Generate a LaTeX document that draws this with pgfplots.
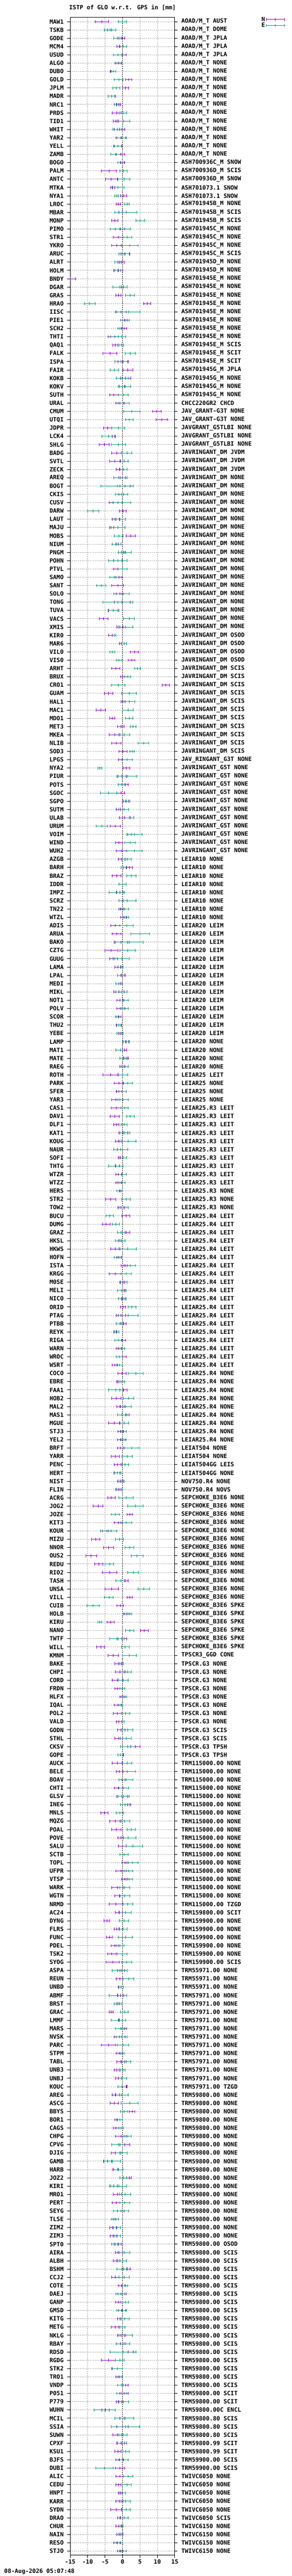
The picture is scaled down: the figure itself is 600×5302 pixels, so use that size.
\documentclass[border=0pt]{standalone}
\usepackage{fontspec}
\setmainfont{DejaVu Sans Mono}
\usepackage{pgfplots}
\usepackage{pgfplotstable}
\pgfplotsset{compat=1.18}
\definecolor{cN}{RGB}{148,0,211}
\definecolor{cE}{RGB}{0,158,115}
\definecolor{cG}{RGB}{160,160,160}
\newcommand\ff{\fontsize{12}{13}\selectfont\bfseries}

\pgfplotstableread{
i name ant nx ne ex ee
0 MAW1 {AOAD/M\_T AUST} -5.95 1.95 0.0 1.23
1 TSKB {AOAD/M\_T DOME} -3.1 1.2 -3.5 1.65
2 GODE {AOAD/M\_T JPLA} -0.2 0.85 -1.5 1.0
3 MCM4 {AOAD/M\_T JPLA} -0.7 0.9 0.15 1.0
4 USUD {AOAD/M\_T JPLA} -0.2 1.2 -1.35 1.35
5 ALGO {AOAD/M\_T NONE} -1.1 0.8 -1.35 0.9
6 DUBO {AOAD/M\_T NONE} -3.4 0.15 -2.7 0.8
7 GOLD {AOAD/M\_T NONE} 1.8 0.85 -1.1 1.2
8 JPLM {AOAD/M\_T NONE} 0.9 0.85 -1.8 1.0
9 MADR {AOAD/M\_T NONE} -3.15 1.0 -3.05 1.1
10 NRC1 {AOAD/M\_T NONE} -1.2 0.6 -1.6 0.75
11 PRDS {AOAD/M\_T NONE} -1.67 1.25 0.15 1.0
12 TID1 {AOAD/M\_T NONE} -1.9 0.7 0.3 1.8
13 WHIT {AOAD/M\_T NONE} -0.9 1.45 -1.55 1.3
14 YAR2 {AOAD/M\_T NONE} -0.37 1.25 -0.3 1.55
15 YELL {AOAD/M\_T NONE} -1.3 1.2 -1.3 1.0
16 ZAMB {AOAD/M\_T NONE} -0.65 1.2 -1.8 1.55
17 BOGO {ASH700936C\_M SNOW} 0.05 0.6 -0.5 0.9
18 PALM {ASH700936D\_M SCIS} -3.9 2.2 0.33 1.0
19 ANTC {ASH700936D\_M SNOW} -3.2 1.7 0.42 1.7
20 MTKA {ASH701073.1 SNOW} -2.8 0.6 -1.3 1.7
21 NYA1 {ASH701073.1 SNOW} 0.33 0.85 -1.67 0.55
22 LROC {ASH701945B\_M NONE} -1.2 0.6 1.3 0.67
23 MBAR {ASH701945B\_M SCIS} -1.1 1.15 1.0 3.2
24 MONP {ASH701945B\_M SCIS} -2.2 0.85 5.1 1.25
25 PIMO {ASH701945C\_M NONE} -0.75 1.35 -0.65 2.85
26 STR1 {ASH701945C\_M NONE} -1.25 1.4 1.4 1.28
27 YKRO {ASH701945C\_M NONE} -1.67 1.5 2.0 2.5
28 ARUC {ASH701945C\_M SCIS} 0.8 1.2 0.42 1.5
29 ALRT {ASH701945D\_M NONE} -0.33 0.75 -1.5 0.75
30 HOLM {ASH701945D\_M NONE} -1.25 1.28 -1.35 0.8
31 BNDY {ASH701945E\_M NONE} -14.9 1.5 nan nan
32 DGAR {ASH701945E\_M NONE} -0.25 0.55 -0.7 2.05
33 GRAS {ASH701945E\_M NONE} -1.2 0.75 2.15 1.2
34 HRAO {ASH701945E\_M NONE} 7.07 1.07 -9.45 1.55
35 IISC {ASH701945E\_M NONE} -0.5 1.6 1.72 3.35
36 PIE1 {ASH701945E\_M NONE} 0.65 0.63 0.7 1.28
37 SCH2 {ASH701945E\_M NONE} 0.42 0.75 -0.75 0.65
38 THTI {ASH701945E\_M NONE} -2.2 2.0 -1.25 2.2
39 QAQ1 {ASH701945E\_M SCIS} -2.05 0.75 -0.33 0.7
40 FALK {ASH701945E\_M SCIT} -3.6 2.0 2.2 1.5
41 ISPA {ASH701945E\_M SCIT} 0.19 1.45 -0.37 1.85
42 FAIR {ASH701945G\_M JPLA} 1.53 1.45 -2.37 1.2
43 KOKB {ASH701945G\_M NONE} 0.84 1.5 -0.1 1.7
44 KOKV {ASH701945G\_M NONE} 0.7 1.63 0.65 1.77
45 SUTH {ASH701945G\_M NONE} -2.47 1.3 0.23 1.37
46 URAL {CHCC220GR2 CHCD} -0.7 1.2 0.37 1.6
47 CMUM {JAV\_GRANT-G3T NONE} 9.8 1.28 2.65 2.37
48 UTQI {JAV\_GRANT-G3T NONE} 11.2 1.65 1.95 1.1
49 JDPR {JAVGRANT\_G5TLBI NONE} -4.28 1.16 -1.25 1.86
50 LCK4 {JAVGRANT\_G5TLBI NONE} -3.0 1.0 -4.05 1.88
51 SHLG {JAVGRANT\_G5TLBI NONE} -5.25 1.47 -1.2 2.05
52 BADG {JAVRINGANT\_DM JVDM} -1.67 1.37 1.3 1.35
53 SVTL {JAVRINGANT\_DM JVDM} -2.2 1.55 0.47 1.2
54 ZECK {JAVRINGANT\_DM JVDM} -0.75 1.05 0.28 1.1
55 AREQ {JAVRINGANT\_DM NONE} -0.05 1.0 -0.55 1.9
56 BOGT {JAVRINGANT\_DM NONE} 0.75 1.5 -1.5 4.67
57 CKIS {JAVRINGANT\_DM NONE} -0.3 0.67 -0.3 1.77
58 CUSV {JAVRINGANT\_DM NONE} -2.6 1.25 -0.15 2.45
59 DARW {JAVRINGANT\_DM NONE} 0.1 1.0 -8.4 1.6
60 LAUT {JAVRINGANT\_DM NONE} -1.95 1.0 -0.7 1.55
61 MAJU {JAVRINGANT\_DM NONE} -2.5 1.23 -1.3 2.0
62 MOBS {JAVRINGANT\_DM NONE} 2.37 1.4 -1.1 1.28
63 NIUM {JAVRINGANT\_DM NONE} -1.2 0.77 -1.67 1.28
64 PNGM {JAVRINGANT\_DM NONE} 0.28 0.6 0.65 1.9
65 POHN {JAVRINGANT\_DM NONE} -1.35 1.16 -1.35 2.7
66 PTVL {JAVRINGANT\_DM NONE} -1.35 1.33 0.0 1.37
67 SAMO {JAVRINGANT\_DM NONE} -1.07 0.85 -2.33 1.35
68 SANT {JAVRINGANT\_DM NONE} -1.4 1.7 -6.0 1.33
69 SOLO {JAVRINGANT\_DM NONE} -0.8 0.9 -0.33 2.2
70 TONG {JAVRINGANT\_DM NONE} -0.1 2.3 -1.3 4.3
71 TUVA {JAVRINGANT\_DM NONE} -2.65 1.37 -2.65 1.55
72 VACS {JAVRINGANT\_DM NONE} -5.4 1.23 1.86 1.6
73 XMIS {JAVRINGANT\_DM NONE} -0.75 0.93 0.84 2.05
74 KIR0 {JAVRINGANT\_DM OSOD} -2.9 1.05 -2.4 0.55
75 MAR6 {JAVRINGANT\_DM OSOD} -0.25 0.65 0.47 0.7
76 VIL0 {JAVRINGANT\_DM OSOD} 3.4 1.14 -2.93 0.75
77 VIS0 {JAVRINGANT\_DM OSOD} 2.6 0.9 -1.0 0.8
78 ARHT {JAVRINGANT\_DM SCIS} -1.95 1.2 4.3 0.93
79 BRUX {JAVRINGANT\_DM SCIS} 0.05 0.6 1.45 0.85
80 CRO1 {JAVRINGANT\_DM SCIS} 12.45 1.0 -1.2 2.0
81 GUAM {JAVRINGANT\_DM SCIS} -3.95 1.2 1.86 2.16
82 HAL1 {JAVRINGANT\_DM SCIS} 0.74 1.14 1.86 1.7
83 MAC1 {JAVRINGANT\_DM SCIS} -6.23 1.3 1.58 1.56
84 MDO1 {JAVRINGANT\_DM SCIS} -2.9 0.74 1.95 1.0
85 MET3 {JAVRINGANT\_DM SCIS} -0.47 0.98 3.0 0.8
86 MKEA {JAVRINGANT\_DM SCIS} -2.28 1.5 0.5 1.6
87 NLIB {JAVRINGANT\_DM SCIS} -1.72 1.35 6.0 1.53
88 SOD3 {JAVRINGANT\_DM SCIS} 0.1 1.2 2.75 0.7
89 LPGS {JAV\_RINGANT\_G3T NONE} 0.05 1.3 1.35 1.5
90 NYA2 {JAVRINGANT\_G5T NONE} 1.07 0.98 -6.56 0.6
91 PIUR {JAVRINGANT\_G5T NONE} -0.1 1.16 1.26 2.84
92 POTS {JAVRINGANT\_G5T NONE} 0.84 0.77 -0.28 0.84
93 SGOC {JAVRINGANT\_G5T NONE} -0.5 1.1 -4.0 2.42
94 SGPO {JAVRINGANT\_G5T NONE} 0.88 0.88 1.16 0.86
95 SUTM {JAVRINGANT\_G5T NONE} -0.65 1.14 0.4 1.37
96 ULAB {JAVRINGANT\_G5T NONE} 0.65 1.5 1.95 1.35
97 URUM {JAVRINGANT\_G5T NONE} -2.1 1.47 -5.9 1.63
98 VOIM {JAVRINGANT\_G5T NONE} 2.47 0.93 3.4 2.25
99 WIND {JAVRINGANT\_G5T NONE} -1.07 1.05 2.15 1.5
100 WUH2 {JAVRINGANT\_G5T NONE} -0.28 1.5 3.4 2.25
101 AZGB {LEIAR10 NONE} -0.23 0.9 1.3 1.23
102 BARH {LEIAR10 NONE} 1.95 0.8 0.28 0.7
103 BRAZ {LEIAR10 NONE} -1.67 1.28 2.5 1.28
104 IDDR {LEIAR10 NONE} nan nan 0.0 1.0
105 IMPZ {LEIAR10 NONE} -0.8 1.0 -1.58 2.2
106 SCRZ {LEIAR10 NONE} 0.14 1.2 1.4 2.5
107 TN22 {LEIAR10 NONE} -0.37 0.63 0.65 1.2
108 WTZL {LEIAR10 NONE} 0.23 0.77 1.2 0.65
109 ADIS {LEIAR20 LEIM} -2.05 1.33 1.16 1.95
110 ARUA {LEIAR20 LEIM} -1.67 1.28 5.0 2.7
111 BAKO {LEIAR20 LEIM} -0.42 1.88 1.95 3.95
112 CZTG {LEIAR20 LEIM} -3.2 1.9 1.44 2.23
113 GUUG {LEIAR20 LEIM} -2.65 1.1 -0.1 2.07
114 LAMA {LEIAR20 LEIM} -1.35 0.86 -0.6 0.8
115 LPAL {LEIAR20 LEIM} -0.47 1.05 -0.33 1.2
116 MEDI {LEIAR20 LEIM} -0.6 0.5 -1.0 0.86
117 MIKL {LEIAR20 LEIM} -1.0 1.5 -0.33 1.63
118 NOT1 {LEIAR20 LEIM} -0.75 0.9 0.47 1.23
119 POLV {LEIAR20 LEIM} -0.47 1.2 0.47 1.2
120 SCOR {LEIAR20 LEIM} -1.25 0.86 -1.6 0.5
121 THU2 {LEIAR20 LEIM} -1.07 0.72 -1.0 0.6
122 YEBE {LEIAR20 LEIM} -0.8 0.35 -0.75 0.9
123 LAMP {LEIAR20 NONE} 1.0 0.88 0.95 0.9
124 MAT1 {LEIAR20 NONE} 0.6 0.63 -0.65 1.2
125 MATE {LEIAR20 NONE} 1.0 0.63 0.4 1.07
126 RAEG {LEIAR20 NONE} 0.47 1.16 0.7 1.0
127 ROTH {LEIAR25 LEIT} -3.45 2.2 0.0 1.44
128 PARK {LEIAR25 NONE} -1.1 1.25 1.53 1.3
129 SFER {LEIAR25 NONE} -1.0 0.7 -0.28 1.3
130 YAR3 {LEIAR25 NONE} -1.95 1.14 0.14 1.5
131 CAS1 {LEIAR25.R3 LEIT} -1.8 1.4 0.6 1.02
132 DAV1 {LEIAR25.R3 LEIT} -2.2 1.35 2.28 1.16
133 DLF1 {LEIAR25.R3 LEIT} -1.8 0.77 0.42 0.93
134 KAT1 {LEIAR25.R3 LEIT} 0.19 1.25 0.6 1.4
135 KOUG {LEIAR25.R3 LEIT} -1.16 0.95 1.58 2.26
136 NAUR {LEIAR25.R3 LEIT} -1.53 1.0 -0.56 2.0
137 SOFI {LEIAR25.R3 LEIT} -0.56 0.65 0.1 1.05
138 THTG {LEIAR25.R3 LEIT} -0.93 1.1 -1.95 2.1
139 WTZR {LEIAR25.R3 LEIT} -1.16 0.8 -0.1 1.1
140 WTZZ {LEIAR25.R3 LEIT} -1.1 0.84 -0.37 1.1
141 HERS {LEIAR25.R3 NONE} -0.47 0.47 -0.8 0.77
142 STR2 {LEIAR25.R3 NONE} -3.35 1.5 1.0 1.28
143 TOW2 {LEIAR25.R3 NONE} -0.37 1.0 0.28 1.33
144 BUCU {LEIAR25.R4 LEIT} 1.0 1.1 -3.63 1.14
145 DUMG {LEIAR25.R4 LEIT} -4.7 1.14 -1.95 1.0
146 GRAZ {LEIAR25.R4 LEIT} 1.0 1.0 -0.37 1.05
147 HKSL {LEIAR25.R4 LEIT} -0.23 0.9 -0.7 1.4
148 HKWS {LEIAR25.R4 LEIT} -2.1 1.37 1.53 2.5
149 HOFN {LEIAR25.R4 LEIT} -1.0 0.65 -1.4 1.0
150 ISTA {LEIAR25.R4 LEIT} 0.47 0.9 2.23 1.4
151 KRGG {LEIAR25.R4 LEIT} -2.14 1.65 1.07 1.5
152 M0SE {LEIAR25.R4 LEIT} -0.05 0.63 0.33 0.95
153 MELI {LEIAR25.R4 LEIT} 0.74 0.28 -0.23 1.23
154 NICO {LEIAR25.R4 LEIT} 0.19 0.53 -0.1 1.14
155 ORID {LEIAR25.R4 LEIT} 0.14 0.72 2.7 1.1
156 PTAG {LEIAR25.R4 LEIT} -0.47 1.35 1.63 2.77
157 PTBB {LEIAR25.R4 LEIT} 0.28 0.74 -0.8 1.0
158 REYK {LEIAR25.R4 LEIT} -1.8 0.7 -1.63 0.53
159 RIGA {LEIAR25.R4 LEIT} -0.14 1.0 -1.25 1.0
160 WARN {LEIAR25.R4 LEIT} -1.07 0.72 -0.37 1.0
161 WROC {LEIAR25.R4 LEIT} 0.05 1.0 -0.93 0.9
162 WSRT {LEIAR25.R4 LEIT} -2.2 0.75 -0.84 0.84
163 COCO {LEIAR25.R4 NONE} -0.14 1.14 3.8 2.1
164 EBRE {LEIAR25.R4 NONE} -1.0 0.63 -0.42 1.02
165 FAA1 {LEIAR25.R4 NONE} 0.28 1.0 -1.95 2.1
166 HOB2 {LEIAR25.R4 NONE} -1.72 1.35 1.77 1.5
167 MAL2 {LEIAR25.R4 NONE} -0.6 1.05 0.84 1.65
168 MAS1 {LEIAR25.R4 NONE} 0.9 1.0 -0.1 1.35
169 MGUE {LEIAR25.R4 NONE} -2.4 1.63 0.47 1.37
170 STJ3 {LEIAR25.R4 NONE} -0.5 0.77 0.19 0.84
171 YEL2 {LEIAR25.R4 NONE} -0.42 1.1 0.19 0.84
172 BRFT {LEIAT504 NONE} -0.65 0.9 2.7 2.1
173 YARR {LEIAT504 NONE} -2.05 1.16 1.35 1.5
174 PENC {LEIAT504GG LEIS} -1.44 0.95 0.8 0.95
175 HERT {LEIAT504GG NONE} -1.5 0.72 -1.44 1.07
176 NIST {NOV750.R4 NONE} -0.65 0.77 -0.28 0.77
177 FLIN {NOV750.R4 NOVS} -1.2 0.75 -0.84 0.77
178 ACRG {SEPCHOKE\_B3E6 NONE} -3.2 1.14 1.07 2.07
179 JOG2 {SEPCHOKE\_B3E6 NONE} -7.0 1.37 3.67 2.2
180 JOZE {SEPCHOKE\_B3E6 NONE} 2.0 0.74 -2.1 1.2
181 KIT3 {SEPCHOKE\_B3E6 NONE} -1.25 1.1 1.07 1.6
182 KOUR {SEPCHOKE\_B3E6 NONE} -4.5 1.2 -4.0 2.42
183 MIZU {SEPCHOKE\_B3E6 NONE} -7.7 1.2 -0.9 1.23
184 NNOR {SEPCHOKE\_B3E6 NONE} -3.95 1.5 2.0 1.3
185 OUS2 {SEPCHOKE\_B3E6 NONE} -9.0 1.56 4.2 1.7
186 REDU {SEPCHOKE\_B3E6 NONE} -6.8 1.16 -3.77 1.28
187 RIO2 {SEPCHOKE\_B3E6 NONE} -3.7 2.14 3.1 1.56
188 TASH {SEPCHOKE\_B3E6 NONE} 0.6 1.1 -0.5 1.4
189 UNSA {SEPCHOKE\_B3E6 NONE} -3.07 1.9 6.1 1.63
190 VILL {SEPCHOKE\_B3E6 NONE} 2.0 0.74 -3.9 1.28
191 CUIB {SEPCHOKE\_B3E6 SPKE} -0.65 1.0 -8.47 1.77
192 HOLB {SEPCHOKE\_B3E6 SPKE} 1.16 0.9 1.67 1.02
193 KIRU {SEPCHOKE\_B3E6 SPKE} -3.4 1.1 -6.56 0.6
194 NANO {SEPCHOKE\_B3E6 SPKE} 6.23 1.12 2.05 1.23
195 TWTF {SEPCHOKE\_B3E6 SPKE} -0.1 1.3 -1.63 2.1
196 WILL {SEPCHOKE\_B3E6 SPKE} -6.23 1.1 0.8 1.07
197 KMNM {TPSCR3\_GGD CONE} -2.7 1.5 1.95 2.0
198 BAKE {TPSCR.G3 NONE} -1.2 1.0 -0.23 0.53
199 CHPI {TPSCR.G3 NONE} -0.7 1.4 1.5 1.07
200 CORD {TPSCR.G3 NONE} -1.53 1.5 0.19 1.4
201 FRDN {TPSCR.G3 NONE} -1.5 0.74 -0.1 0.67
202 HLFX {TPSCR.G3 NONE} 0.0 0.7 0.37 0.8
203 IQAL {TPSCR.G3 NONE} -1.35 1.0 -0.5 0.5
204 POL2 {TPSCR.G3 NONE} -1.5 1.2 0.93 1.2
205 VALD {TPSCR.G3 NONE} -1.0 0.72 -0.23 0.74
206 GODN {TPSCR.G3 SCIS} -0.42 1.1 1.5 1.5
207 STHL {TPSCR.G3 SCIS} -1.1 1.1 1.0 1.56
208 CKSV {TPSCR.G3 TPSH} 3.7 1.4 1.53 2.1
209 GOPE {TPSCR.G3 TPSH} 0.19 0.1 -0.6 0.8
210 AUCK {TRM115000.00 NONE} -1.44 1.47 1.3 1.4
211 BELE {TRM115000.00 NONE} -0.84 1.0 1.4 2.28
212 BOAV {TRM115000.00 NONE} -0.2 0.9 1.0 2.0
213 CHTI {TRM115000.00 NONE} -1.2 1.14 0.37 1.35
214 GLSV {TRM115000.00 NONE} -0.1 1.53 0.23 1.63
215 INEG {TRM115000.00 NONE} 1.55 0.8 0.74 1.3
216 MNLS {TRM115000.00 NONE} -5.2 1.05 -0.75 1.07
217 MQZG {TRM115000.00 NONE} -2.05 1.58 0.65 1.35
218 POAL {TRM115000.00 NONE} -1.8 1.37 2.5 1.16
219 POVE {TRM115000.00 NONE} -0.5 0.86 1.7 2.2
220 SALU {TRM115000.00 NONE} -0.05 1.07 2.9 2.9
221 SCTB {TRM115000.00 NONE} nan nan 0.47 1.16
222 TOPL {TRM115000.00 NONE} 0.74 0.84 2.8 1.65
223 UFPR {TRM115000.00 NONE} -0.5 1.47 1.72 1.26
224 VTSP {TRM115000.00 NONE} 0.6 0.88 1.9 0.93
225 WARK {TRM115000.00 NONE} -1.5 1.58 0.65 1.35
226 WGTN {TRM115000.00 NONE} -0.8 1.44 0.65 1.47
227 NRMD {TRM115000.00 TZGD} -1.9 2.0 1.53 1.44
228 AC24 {TRM159800.00 SCIT} -1.0 1.0 0.84 1.72
229 DYNG {TRM159900.00 NONE} -4.5 0.8 0.5 1.35
230 FLRS {TRM159900.00 NONE} -1.65 0.7 0.14 1.2
231 FUNC {TRM159900.00 NONE} -3.77 0.86 0.84 1.98
232 PDEL {TRM159900.00 NONE} -2.2 1.0 -0.7 1.14
233 TSK2 {TRM159900.00 NONE} -3.07 1.28 -0.05 1.44
234 SYOG {TRM159900.00 SCIS} -2.84 1.9 1.2 1.47
235 ASPA {TRM55971.00 NONE} -0.47 1.05 -0.84 2.1
236 REUN {TRM55971.00 NONE} -0.8 1.0 1.72 1.6
237 UNBD {TRM55971.00 NONE} -0.47 0.74 -0.37 0.65
238 ABMF {TRM57971.00 NONE} -0.6 0.93 -1.35 2.47
239 BRST {TRM57971.00 NONE} -0.93 0.63 -1.3 1.0
240 GRAC {TRM57971.00 NONE} -3.2 0.58 0.56 1.1
241 LMMF {TRM57971.00 NONE} -1.1 0.15 -1.16 2.05
242 MARS {TRM57971.00 NONE} 0.47 0.7 -0.65 1.44
243 NVSK {TRM57971.00 NONE} -0.84 1.53 -0.28 1.56
244 PARC {TRM57971.00 NONE} -4.0 2.1 0.14 1.58
245 STPM {TRM57971.00 NONE} -0.93 0.88 -0.1 0.56
246 TABL {TRM57971.00 NONE} -0.47 1.1 1.0 1.3
247 UNB3 {TRM57971.00 NONE} -1.63 0.74 0.1 0.65
248 UNBJ {TRM57971.00 NONE} -1.16 0.9 0.05 1.2
249 KOUC {TRM57971.00 TZGD} 1.2 0.1 -0.1 1.3
250 AREG {TRM59800.00 NONE} -1.95 1.0 -0.23 1.8
251 ASCG {TRM59800.00 NONE} -2.33 1.16 2.0 2.5
252 BBYS {TRM59800.00 NONE} 2.74 0.8 0.47 1.0
253 BOR1 {TRM59800.00 NONE} -1.5 0.74 -0.8 0.86
254 CAGS {TRM59800.00 NONE} -1.86 0.8 -0.37 0.7
255 CHPG {TRM59800.00 NONE} -0.5 1.6 1.5 1.07
256 CPVG {TRM59800.00 NONE} 0.6 1.4 -1.2 1.84
257 DJIG {TRM59800.00 NONE} -2.0 1.2 -0.37 1.63
258 GAMB {TRM59800.00 NONE} -4.23 1.19 -3.0 2.35
259 HARB {TRM59800.00 NONE} -1.35 1.47 -1.2 1.37
260 JOZ2 {TRM59800.00 NONE} 1.86 0.67 0.28 0.95
261 KIRI {TRM59800.00 NONE} -2.56 1.07 -1.1 2.35
262 MRO1 {TRM59800.00 NONE} -1.5 1.16 0.74 1.6
263 PERT {TRM59800.00 NONE} -1.8 1.1 0.6 1.4
264 SEYG {TRM59800.00 NONE} -0.5 1.0 -0.47 2.2
265 TLSE {TRM59800.00 NONE} -2.28 0.33 -2.23 1.0
266 ZIM2 {TRM59800.00 NONE} -2.74 0.9 -1.67 1.05
267 ZIM3 {TRM59800.00 NONE} -2.6 0.9 -1.5 0.93
268 SPT0 {TRM59800.00 OSOD} -1.35 1.0 -2.14 0.93
269 AIRA {TRM59800.00 SCIS} -1.0 1.0 0.42 1.7
270 ALBH {TRM59800.00 SCIS} -1.67 1.0 -0.05 1.3
271 BSHM {TRM59800.00 SCIS} 1.26 1.0 -0.19 1.37
272 CCJ2 {TRM59800.00 SCIS} -2.05 1.0 0.42 1.44
273 COTE {TRM59800.00 SCIS} -0.14 1.0 0.6 0.86
274 DAEJ {TRM59800.00 SCIS} -0.1 1.2 -0.65 1.3
275 GANP {TRM59800.00 SCIS} -1.25 0.86 0.88 0.86
276 GMSD {TRM59800.00 SCIS} -0.14 1.0 -0.23 1.4
277 KITG {TRM59800.00 SCIS} -0.5 1.05 0.55 1.33
278 METG {TRM59800.00 SCIS} -2.14 1.07 0.0 0.67
279 NKLG {TRM59800.00 SCIS} -0.5 1.02 0.88 1.9
280 RBAY {TRM59800.00 SCIS} 0.1 0.63 0.1 1.9
281 RDSD {TRM59800.00 SCIS} 1.6 1.5 0.1 3.72
282 RGDG {TRM59800.00 SCIS} -4.05 2.05 -0.8 1.3
283 STK2 {TRM59800.00 SCIS} -1.45 1.45 -1.53 1.53
284 TRO1 {TRM59800.00 SCIS} -1.0 0.9 -0.8 0.6
285 VNDP {TRM59800.00 SCIS} 0.84 0.74 -0.33 1.19
286 P051 {TRM59800.00 SCIT} 0.47 1.14 -0.33 1.3
287 P779 {TRM59800.00 SCIT} -1.0 0.77 0.28 1.44
288 WUHN {TRM59800.00C ENCL} -4.9 1.0 -5.1 3.0
289 MCIL {TRM59800.80 SCIS} -0.7 1.47 0.5 2.7
290 SSIA {TRM59800.80 SCIS} 0.0 1.56 0.84 4.07
291 SUWN {TRM59800.80 SCIS} -1.5 1.26 0.14 1.23
292 CPXF {TRM59800.99 SCIT} -0.5 1.1 -0.1 1.35
293 KSU1 {TRM59800.99 SCIT} -1.35 0.88 0.93 0.93
294 BJFS {TRM59900.00 SCIS} -0.88 1.07 0.28 1.3
295 DUBI {TRM59900.00 SCIS} -0.7 1.35 -5.16 2.5
296 ALIC {TWIVC6050 NONE} -0.8 1.16 1.58 1.35
297 CEDU {TWIVC6050 NONE} -1.18 0.72 1.28 1.23
298 HNPT {TWIVC6050 NONE} -0.64 0.55 0.05 0.88
299 KARR {TWIVC6050 NONE} -0.86 1.0 0.9 1.3
300 SYDN {TWIVC6050 NONE} -1.77 1.6 1.0 1.25
301 DRAO {TWIVC6050 SCIS} -0.54 1.0 0.43 1.2
302 CHUR {TWIVC6150 NONE} -1.07 0.8 -0.45 0.6
303 NAIN {TWIVC6150 NONE} -0.8 0.8 -0.43 0.6
304 RESO {TWIVC6150 NONE} -1.55 0.9 -0.8 0.8
305 STJO {TWIVC6150 NONE} -0.8 0.72 0.2 0.8
}\tbl

\begin{document}
\begin{tikzpicture}
\path[use as bounding box] (0pt,0pt) rectangle (600pt,5302pt);
\begin{axis}[
  at={(144.3pt,43pt)}, anchor=south west,
  scale only axis, width=215pt, height=5223pt,
  xmin=-15, xmax=15, ymin=-0.5, ymax=305.5, y dir=reverse,
  xtick={-15,-10,-5,0,5,10,15}, xticklabels={-15,-10,-5,0,5,10,15},
  ytick={0,...,305}, yticklabels from table={\tbl}{name},
  tick align=outside, major tick length=6pt,
  xtick pos=bottom, ytick pos=both, yticklabel pos=left,
  xmajorgrids, ymajorgrids,
  major grid style={cG, line width=1pt, dash pattern=on 2pt off 2pt},
  axis line style={line width=1pt, black},
  tick style={line width=1pt, black},
  tick label style={font=\ff},
  yticklabel style={xshift=-4pt},
  extra x ticks={0}, extra x tick labels={},
  extra x tick style={grid=major, major grid style={black, line width=1pt, dash pattern=on 2pt off 2pt}, major tick length=0pt},
  clip=true,
  legend style={draw=none, fill=none, at={(2.054,1.0006)}, anchor=north east, font=\ff, row sep=-2pt, inner sep=0pt},
  legend cell align=right,
  legend plot pos=right,
  legend image code/.code={
    \draw[#1, mark=none, line width=1pt] (0pt,0pt) -- (38pt,0pt);
    \draw[#1, mark=none, line width=1pt] (0pt,-3pt) -- (0pt,3pt) (19pt,-3pt) -- (19pt,3pt) (38pt,-3pt) -- (38pt,3pt);
  },
]
\addplot[cN, only marks, mark=|, mark size=3pt, mark options={line width=1pt},
  error bars/.cd, x dir=both, x explicit,
  error bar style={line width=1pt, cN},
  error mark options={rotate=90, mark size=3pt, line width=1pt, cN}]
  table[x=nx, y=i, x error=ne] {\tbl};
\addlegendentry{N}
\addplot[cE, only marks, mark=|, mark size=3pt, mark options={line width=1pt},
  error bars/.cd, x dir=both, x explicit,
  error bar style={line width=1pt, cE},
  error mark options={rotate=90, mark size=3pt, line width=1pt, cE}]
  table[x=ex, y=i, x error=ee] {\tbl};
\addlegendentry{E}
\end{axis}
\begin{axis}[
  at={(144.3pt,43pt)}, anchor=south west,
  scale only axis, width=215pt, height=5223pt,
  xmin=-15, xmax=15, ymin=-0.5, ymax=305.5, y dir=reverse,
  hide x axis,
  axis y line*=right,
  y axis line style={draw=none},
  ytick={0,...,305}, yticklabels from table={\tbl}{ant},
  tick align=outside, major tick length=6pt,
  ytick style={draw=none},
  yticklabel pos=right,
  tick label style={font=\ff},
  yticklabel style={xshift=4pt},
]
\end{axis}
\node[font=\ff] at (251.8pt,5286pt) {ISTP of GLO w.r.t. GPS in [mm]};
\node[font=\ff, anchor=west, inner sep=0pt] at (8.5pt,9pt) {08-Aug-2026 05:07:48};
\end{tikzpicture}
\end{document}
